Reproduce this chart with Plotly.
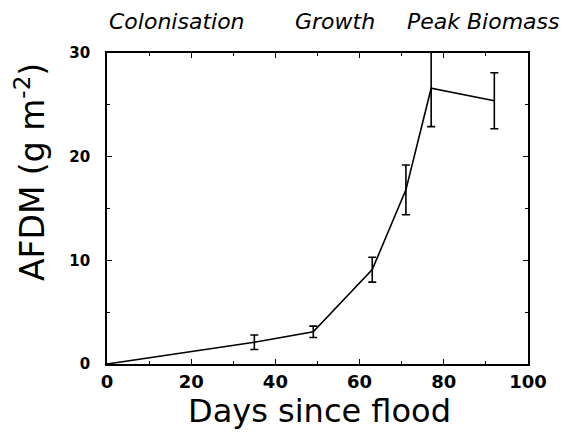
import plotly.graph_objects as go

days = [0, 35, 49, 63, 71, 77, 92]
afdm = [0, 2.1, 3.1, 9.1, 16.8, 26.6, 25.4]
err = [0, 0.7, 0.55, 1.2, 2.4, 3.7, 2.7]
phase_labels = ["Colonisation", "Growth", "Peak Biomass"]
phase_pos = [0.166, 0.542, 0.895]
x_ticks = [0, 20, 40, 60, 80, 100]
y_ticks = [0, 10, 20, 30]

FONT = "DejaVu Sans"

fig = go.Figure()
fig.add_trace(go.Scatter(
    x=days, y=afdm, mode="lines",
    line=dict(color="black", width=1.6),
    error_y=dict(type="data", array=err, visible=True, color="black",
                 thickness=1.6, width=4),
    cliponaxis=True, showlegend=False,
))

axis_common = dict(
    showgrid=False, zeroline=False, showline=True, linecolor="black",
    linewidth=1.6, mirror="ticks", ticks="inside", ticklen=5,
    tickwidth=1.2, tickcolor="black",
)
fig.update_xaxes(range=[0, 100], tickvals=x_ticks,
                 tickfont=dict(family=FONT, size=18, color="black", weight="bold"),
                 ticklabelstandoff=1,
                 minor=dict(dtick=10, ticks="inside", ticklen=3, tickcolor="black"),
                 **axis_common)
fig.update_yaxes(range=[0, 30], tickvals=y_ticks,
                 tickfont=dict(family=FONT, size=15, color="black", weight="bold"),
                 ticklabelstandoff=12,
                 minor=dict(dtick=5, ticks="inside", ticklen=3, tickcolor="black"),
                 **axis_common)

annotations = []
for lab, px in zip(phase_labels, phase_pos):
    annotations.append(dict(text=f"<i>{lab}</i>", x=px, y=1.10, xref="paper",
                            yref="paper", showarrow=False,
                            xanchor="center", yanchor="middle",
                            font=dict(family=FONT, size=22, color="black")))
annotations.append(dict(text="Days since flood", x=0.504, y=-0.15, xref="paper",
                        yref="paper", showarrow=False,
                        xanchor="center", yanchor="middle",
                        font=dict(family=FONT, size=32, color="black")))
annotations.append(dict(text="AFDM (g m<sup>-2</sup>)", x=-0.183, y=0.617,
                        xref="paper", yref="paper", showarrow=False, textangle=-90,
                        xanchor="center", yanchor="middle",
                        font=dict(family=FONT, size=33, color="black")))

fig.update_layout(
    width=572, height=437,
    margin=dict(l=107, r=44, t=53, b=73),
    paper_bgcolor="white", plot_bgcolor="white",
    annotations=annotations,
)
fig.write_html("out.html")
